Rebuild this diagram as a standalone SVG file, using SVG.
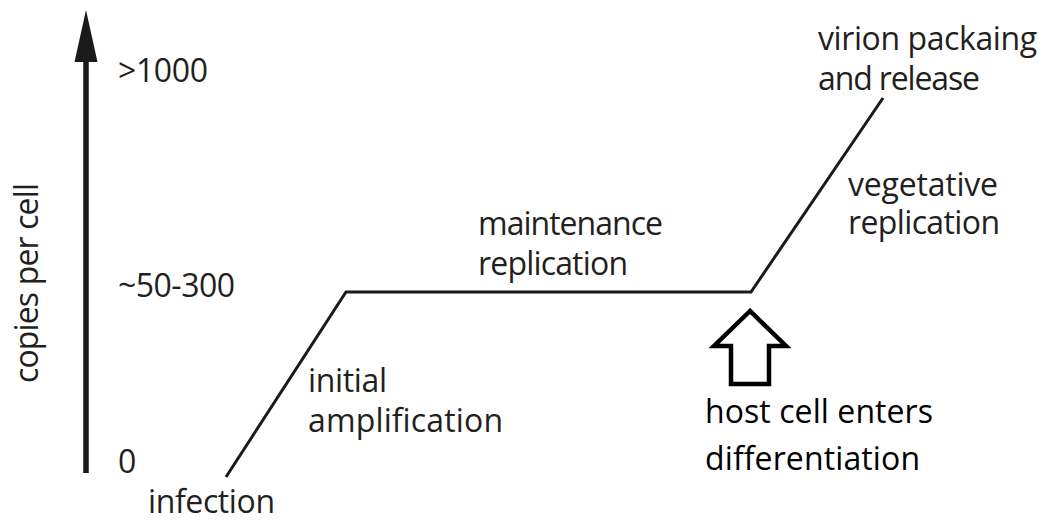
<svg xmlns="http://www.w3.org/2000/svg" width="1043" height="521" viewBox="0 0 1043 521">
<style>
.t{font-family:"Open Sans","Noto Sans",sans-serif;font-size:32px;fill:#231f20}
.c{font-family:"Open Sans","Noto Sans",sans-serif;font-size:32px;fill:#000}
.ln{fill:none;stroke:#1a1a1a;stroke-width:3;stroke-linejoin:miter}
</style>
<rect width="1043" height="521" fill="#fff"/>
<g id="axis">
<line x1="86" y1="473" x2="86" y2="58" stroke="#1a1a1a" stroke-width="5.5"/>
<polygon points="86,10 74.5,62 97.5,62" fill="#1a1a1a"/>
<text class="t" transform="translate(38,383) rotate(-90)" textLength="200">copies per cell</text>
<text class="t" x="118" y="82" textLength="90">&gt;1000</text>
<text class="t" x="118" y="297" textLength="117">~50-300</text>
<text class="t" x="118" y="473">0</text>
</g>
<g id="connectors">
<polyline class="ln" points="226,477 346,292 751,292 883,98"/>
</g>
<g id="infection"><text class="t" x="148" y="513" textLength="127">infection</text></g>
<g id="initial-amplification">
<text class="t" x="308" y="392" textLength="79">initial</text>
<text class="t" x="308" y="432" textLength="195">amplification</text>
</g>
<g id="maintenance-replication">
<text class="t" x="478" y="235" textLength="185">maintenance</text>
<text class="t" x="478" y="275" textLength="150">replication</text>
</g>
<g id="virion-packaging">
<text class="t" x="818" y="50" textLength="219">virion packaing</text>
<text class="t" x="818" y="90" textLength="162">and release</text>
</g>
<g id="vegetative-replication">
<text class="t" x="848" y="196" textLength="150">vegetative</text>
<text class="t" x="848" y="234" textLength="152">replication</text>
</g>
<g id="differentiation">
<path d="M750,311 L714,346 L731,346 L731,384 L769,384 L769,346 L786,346 Z" fill="#fff" stroke="#000" stroke-width="4.5" stroke-linejoin="miter"/>
<text class="c" x="705" y="423" textLength="228">host cell enters</text>
<text class="c" x="705" y="470" textLength="215">differentiation</text>
</g>
</svg>
